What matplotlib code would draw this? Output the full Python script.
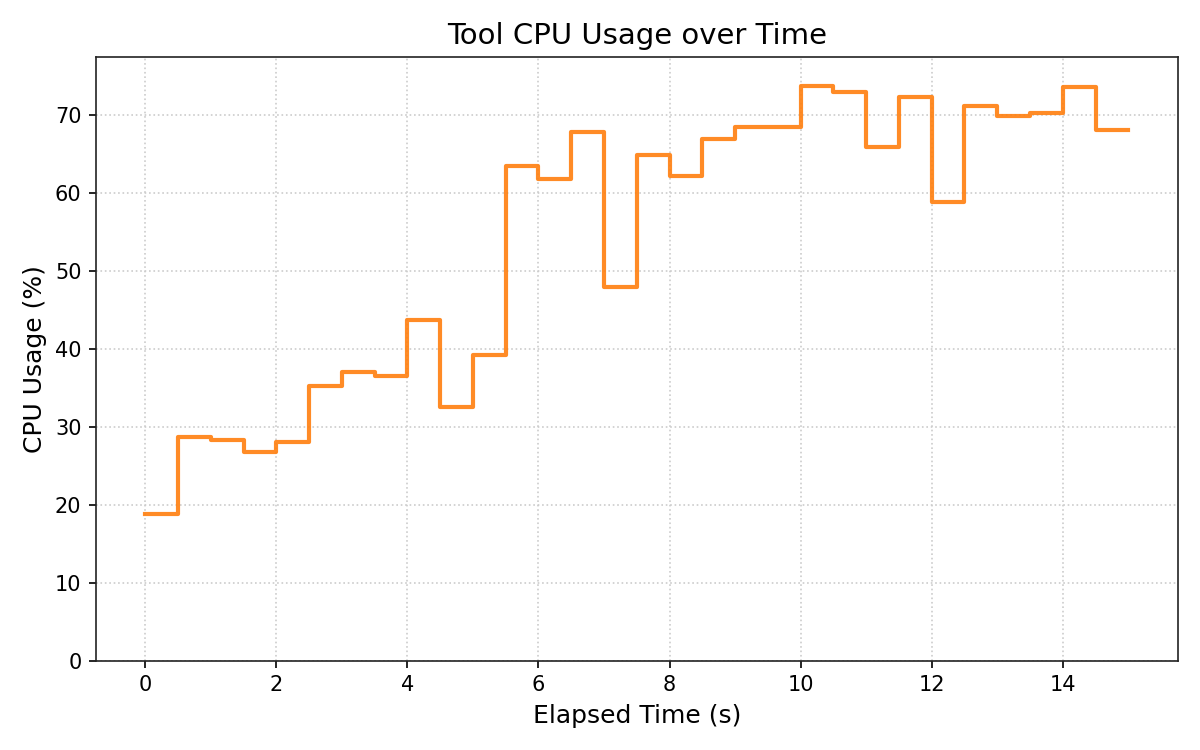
import numpy as np
import matplotlib
matplotlib.use("Agg")
import matplotlib.pyplot as plt

# elapsed time (s) and sampled CPU usage (%)
elapsed = np.arange(0, 15.01, 0.5)
cpu_usage = [18.8, 28.7, 28.3, 26.8, 28.0, 35.2, 37.1, 36.5, 43.7, 32.5,
             39.2, 63.5, 61.8, 67.9, 47.9, 64.9, 62.2, 66.9, 68.5, 68.5,
             73.8, 73.0, 65.9, 72.4, 58.9, 71.2, 69.9, 70.3, 73.6, 68.1,
             68.1]

fig, ax = plt.subplots(figsize=(8, 5), dpi=150)

ax.step(elapsed, cpu_usage, where="post", color="#ff7f0e", alpha=0.9, linewidth=2)

ax.set_title("Tool CPU Usage over Time", fontsize=14)
ax.set_xlabel("Elapsed Time (s)", fontsize=12)
ax.set_ylabel("CPU Usage (%)", fontsize=12)
ax.set_ylim(0, max(cpu_usage) * 1.05)
ax.grid(True, linestyle=":", color="#cccccc", linewidth=0.8)

for s in ax.spines.values():
    s.set_color("#222222")

fig.tight_layout()
fig.savefig("out.png", dpi=150)
